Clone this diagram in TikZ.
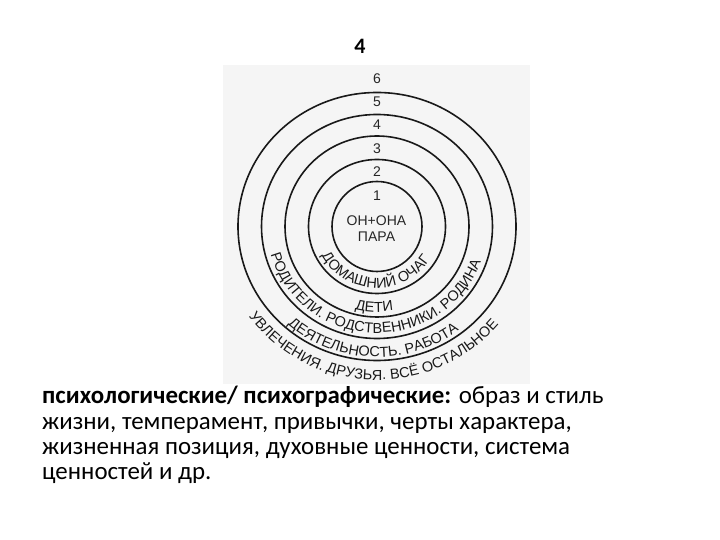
\documentclass[tikz,border=0pt]{standalone}
\usepackage{fontspec}
\setmainfont{Carlito}
\newfontfamily\ringfont{Liberation Sans}
\usetikzlibrary{decorations.text}

\begin{document}
\begin{tikzpicture}[x=1pt,y=1pt,
  ring/.style={line width=1.6pt,black!90},
  numlbl/.style={font=\ringfont\fontsize{14}{16}\selectfont,inner sep=0pt,black!85},
  txtline/.style={font=\fontsize{24.9}{28}\selectfont,anchor=base west,inner sep=0pt},
  arclbl/.style={decorate,decoration={text along path,text align=center,
    text={|\ringfont\fontsize{14.5}{16}\selectfont\color{black!90}|#1}}}]
\useasboundingbox (0,0) rectangle (720,540);
\fill[white] (0,0) rectangle (720,540);
% faint scanned page behind the rings
\fill[black!4] (223,156) rectangle (530,475);
\coordinate (c) at (377,313.5);
\foreach \rx/\ry in {45/45,68.5/67,92/90.5,115.5/112,139/134}
  \draw[ring] (c) ellipse[x radius=\rx pt,y radius=\ry pt];
\foreach \k/\y in {1/344.5,2/368,3/391.5,4/415,5/438.5,6/461.5}
  \node[numlbl] (n\k) at (377,\y) {\k};
\node[numlbl] (couple) at (376.5,319) {ОН+ОНА};
\node[numlbl] (pair) at (376.5,303) {ПАРА};
\path[arclbl={ДОМАШНИЙ ОЧАГ}] ([shift={(c)}]178:63pt and 61.5pt)
  arc[start angle=178,end angle=358,x radius=63pt,y radius=61.5pt];
\path[arclbl={ДЕТИ}] ([shift={(c)}]178:87.5pt and 85.5pt)
  arc[start angle=178,end angle=358,x radius=87.5pt,y radius=85.5pt];
\path[arclbl={РОДИТЕЛИ. РОДСТВЕННИКИ. РОДИНА}] ([shift={(c)}]178:110pt and 106.5pt)
  arc[start angle=178,end angle=358,x radius=110pt,y radius=106.5pt];
\path[arclbl={ДЕЯТЕЛЬНОСТЬ. РАБОТА}] ([shift={(c)}]178:135pt and 130.5pt)
  arc[start angle=178,end angle=358,x radius=135pt,y radius=130.5pt];
\path[arclbl={УВЛЕЧЕНИЯ. ДРУЗЬЯ. ВСЁ ОСТАЛЬНОЕ}] ([shift={(c)}]178:158pt and 153.5pt)
  arc[start angle=178,end angle=358,x radius=158pt,y radius=153.5pt];
\node[font=\bfseries\fontsize{22}{26}\selectfont,anchor=base] (title) at (360,486) {4};
\node[txtline] (l1) at (42,136) {\textbf{психологические/ психографические:} образ и стиль};
\node[txtline] (l2) at (42,110.7) {жизни, темперамент, привычки, черты характера,};
\node[txtline] (l3) at (42,85.3) {жизненная позиция, духовные ценности, система};
\node[txtline] (l4) at (42,60) {ценностей и др.};
\end{tikzpicture}
\end{document}
